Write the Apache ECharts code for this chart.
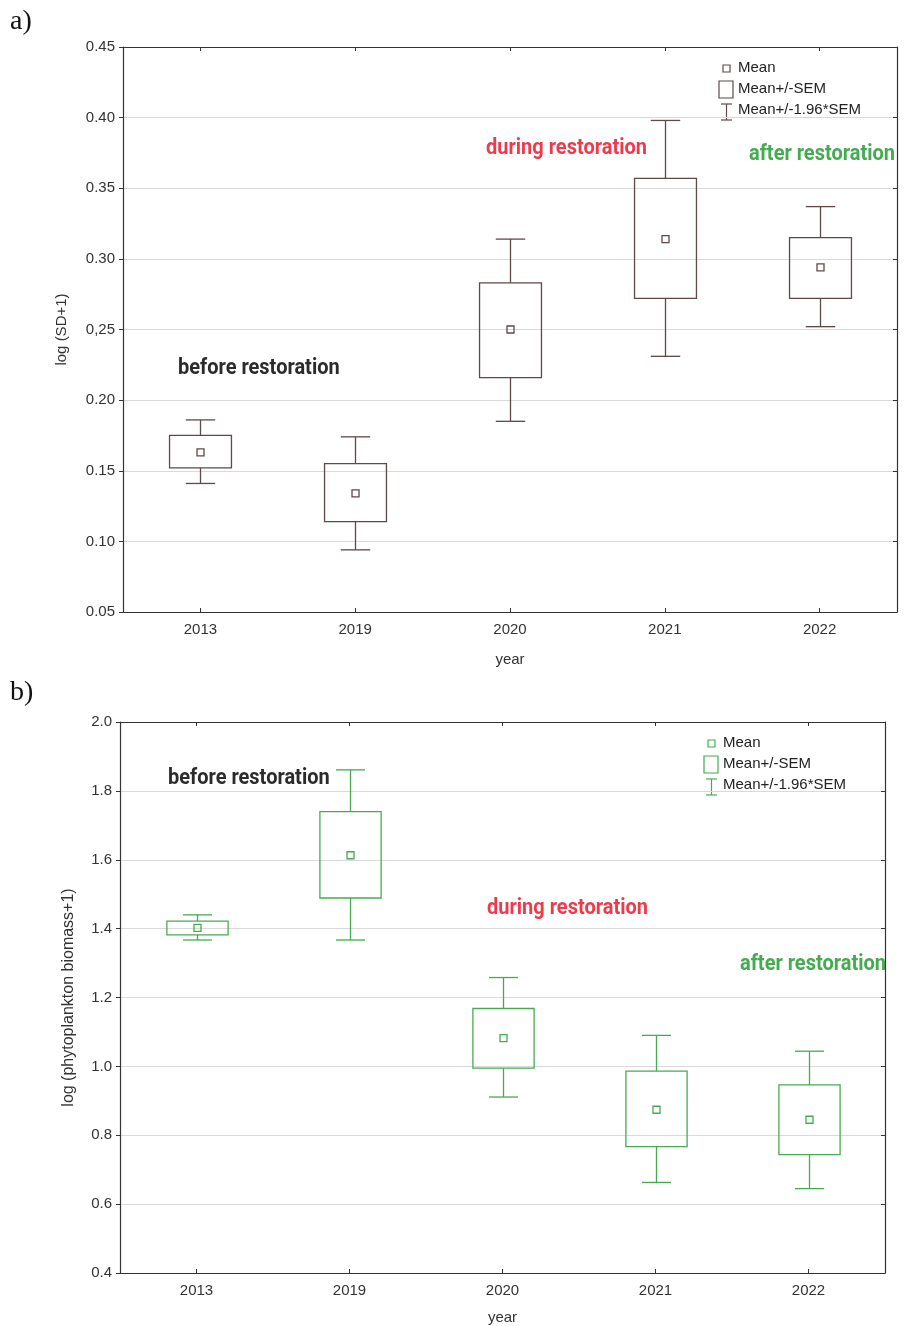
<!DOCTYPE html>
<html>
<head>
<meta charset="utf-8">
<title>Secchi depth and phytoplankton biomass by year</title>
<script src="https://cdn.jsdelivr.net/npm/echarts@6/dist/echarts.min.js"></script>
<style>
  html, body { margin: 0; padding: 0; background: #fff; }
  #chart { width: 909px; height: 1326px; }
</style>
</head>
<body>
<div id="chart"></div>
<script>
// Sampling years
const years = ['2013', '2019', '2020', '2021', '2022'];

// Panel a) log(SD+1): mean, mean ± SEM, mean ± 1.96·SEM
const sdMean     = [0.163, 0.134, 0.250, 0.314, 0.294];
const sdSemLow   = [0.152, 0.114, 0.216, 0.272, 0.272];
const sdSemHigh  = [0.175, 0.155, 0.283, 0.357, 0.315];
const sdCiLow    = [0.141, 0.094, 0.185, 0.231, 0.252];
const sdCiHigh   = [0.186, 0.174, 0.314, 0.398, 0.337];
const sdTicks    = ['0.05', '0.10', '0.15', '0.20', '0,25', '0.30', '0.35', '0.40', '0.45'];

// Panel b) log(phytoplankton biomass+1)
const bioMean    = [1.402, 1.613, 1.082, 0.874, 0.845];
const bioSemLow  = [1.382, 1.489, 0.995, 0.767, 0.744];
const bioSemHigh = [1.422, 1.740, 1.168, 0.986, 0.946];
const bioCiLow   = [1.367, 1.367, 0.911, 0.663, 0.645];
const bioCiHigh  = [1.440, 1.861, 1.258, 1.090, 1.044];
const bioTicks   = ['0.4', '0.6', '0.8', '1.0', '1.2', '1.4', '1.6', '1.8', '2.0'];

const BROWN = '#5e4848';
const GREEN = '#45ab50';
const RED = '#ee3b4c';
const AXIS = '#333';
const GRIDLINE = '#d9d9d9';
const SANS = '"Liberation Sans", Arial, sans-serif';

function rows(lo, sLo, m, sHi, hi) {
  return years.map((y, i) => [i, lo[i], sLo[i], m[i], sHi[i], hi[i]]);
}

// Box (±SEM), whiskers with caps (±1.96·SEM) and a small square for the mean
function boxRenderer(color) {
  return function (params, api) {
    const i = api.value(0);
    const lo = api.coord([i, api.value(1)]);
    const bl = api.coord([i, api.value(2)]);
    const m = api.coord([i, api.value(3)]);
    const bh = api.coord([i, api.value(4)]);
    const hi = api.coord([i, api.value(5)]);
    const band = api.size([1, 0])[0];
    const bw = band * 0.4;
    const cw = band * 0.19;
    const ms = 7;
    const x = Math.round(m[0]) + 0.5;
    const st = { stroke: color, lineWidth: 1.3, fill: null };
    return {
      type: 'group',
      children: [
        { type: 'line', shape: { x1: x, y1: hi[1], x2: x, y2: bh[1] }, style: st },
        { type: 'line', shape: { x1: x, y1: bl[1], x2: x, y2: lo[1] }, style: st },
        { type: 'line', shape: { x1: x - cw / 2, y1: hi[1], x2: x + cw / 2, y2: hi[1] }, style: st },
        { type: 'line', shape: { x1: x - cw / 2, y1: lo[1], x2: x + cw / 2, y2: lo[1] }, style: st },
        { type: 'rect', shape: { x: x - bw / 2, y: bh[1], width: bw, height: bl[1] - bh[1] }, style: st },
        { type: 'rect', shape: { x: x - ms / 2, y: m[1] - ms / 2, width: ms, height: ms }, style: st }
      ]
    };
  };
}

function catAxis(gridIndex, position, showLabels, name) {
  return {
    type: 'category', gridIndex, position, data: years,
    boundaryGap: true,
    name: name || '', nameLocation: 'middle',
    nameGap: 40,
    nameTextStyle: { fontFamily: SANS, fontSize: 15, color: '#333' },
    axisLine: { show: true, lineStyle: { color: AXIS, width: 1.2 } },
    axisTick: { show: true, inside: true, length: 4, alignWithLabel: true, lineStyle: { color: AXIS } },
    axisLabel: { show: showLabels, margin: 10, fontFamily: SANS, fontSize: 15, color: '#333' },
    splitLine: { show: false }
  };
}

function valAxis(gridIndex, position, min, max, interval, ticks, name, nameGap, nameSize) {
  return {
    type: 'value', gridIndex, position, min, max, interval,
    name: name || '', nameLocation: 'middle', nameGap: nameGap || 40,
    nameTextStyle: { fontFamily: SANS, fontSize: nameSize || 15, color: '#333' },
    axisLine: { show: true, lineStyle: { color: AXIS, width: 1.2 } },
    axisTick: { show: true, inside: position === 'right', length: 4, lineStyle: { color: AXIS } },
    axisLabel: {
      show: position === 'left', margin: 8, fontFamily: SANS, fontSize: 15, color: '#333',
      formatter: v => ticks[Math.round((v - min) / interval)]
    },
    splitLine: { show: position === 'left', lineStyle: { color: GRIDLINE, width: 1 } }
  };
}

const chart = echarts.init(document.getElementById('chart'), null, { renderer: 'canvas' });

function legendGroup(x, y, color) {
  const st = { stroke: color, lineWidth: 1.2, fill: null };
  const tx = { fontFamily: SANS, fontSize: 15, fill: '#222', textVerticalAlign: 'middle' };
  return {
    type: 'group', x, y, silent: true,
    children: [
      { type: 'rect', shape: { x: 4, y: -3, width: 7, height: 7 }, style: st },
      { type: 'text', x: 19, y: 0, style: Object.assign({ text: 'Mean' }, tx) },
      { type: 'rect', shape: { x: 0, y: 13, width: 14, height: 17 }, style: st },
      { type: 'text', x: 19, y: 21, style: Object.assign({ text: 'Mean+/-SEM' }, tx) },
      { type: 'line', shape: { x1: 2, y1: 36, x2: 13, y2: 36 }, style: st },
      { type: 'line', shape: { x1: 7.5, y1: 36, x2: 7.5, y2: 52 }, style: st },
      { type: 'line', shape: { x1: 2, y1: 52, x2: 13, y2: 52 }, style: st },
      { type: 'text', x: 19, y: 42, style: Object.assign({ text: 'Mean+/-1.96*SEM' }, tx) }
    ]
  };
}

// Period annotation; slightly stretched vertically about its own anchor
function note(text, x, y, color) {
  return {
    type: 'text', x, y, silent: true, scaleY: 1.1,
    style: {
      text, fill: color, fontFamily: 'Roboto, "Liberation Sans", sans-serif',
      fontWeight: 'bold', fontSize: 20, textVerticalAlign: 'middle'
    }
  };
}

function panelLabel(text, x, y) {
  return {
    type: 'text', x, y, silent: true,
    style: { text, fill: '#111', fontFamily: '"Liberation Serif", "Times New Roman", serif', fontSize: 28, textVerticalAlign: 'middle' }
  };
}

const option = {
  animation: false,
  backgroundColor: '#fff',
  grid: [
    { left: 123, top: 47, width: 774, height: 565 },
    { left: 120, top: 722, width: 765, height: 554 }
  ],
  xAxis: [
    Object.assign(catAxis(0, 'bottom', true, 'year'), { nameGap: 40 }),
    catAxis(0, 'top', false),
    Object.assign(catAxis(1, 'bottom', true, 'year'), { nameGap: 37 }),
    catAxis(1, 'top', false)
  ],
  yAxis: [
    valAxis(0, 'left', 0.05, 0.45, 0.05, sdTicks, 'log (SD+1)', 54, 15),
    valAxis(0, 'right', 0.05, 0.45, 0.05, sdTicks),
    valAxis(1, 'left', 0.4, 2.0, 0.2, bioTicks, 'log (phytoplankton biomass+1)', 43, 16),
    valAxis(1, 'right', 0.4, 2.0, 0.2, bioTicks)
  ],
  series: [
    {
      type: 'custom', name: 'log (SD+1)', xAxisIndex: 0, yAxisIndex: 0,
      renderItem: boxRenderer(BROWN),
      encode: { x: 0, y: [1, 2, 3, 4, 5] },
      data: rows(sdCiLow, sdSemLow, sdMean, sdSemHigh, sdCiHigh),
      z: 5
    },
    {
      type: 'custom', name: 'log (phytoplankton biomass+1)', xAxisIndex: 2, yAxisIndex: 2,
      renderItem: boxRenderer(GREEN),
      encode: { x: 0, y: [1, 2, 3, 4, 5] },
      data: rows(bioCiLow, bioSemLow, bioMean, bioSemHigh, bioCiHigh),
      z: 5
    }
  ],
  graphic: [
    panelLabel('a)', 10, 22),
    panelLabel('b)', 10, 693),
    legendGroup(719, 68, BROWN),
    legendGroup(704, 743, GREEN),
    note('before restoration', 178, 368, '#2b2b2b'),
    note('during restoration', 486, 148, RED),
    note('after restoration', 749, 154, GREEN),
    note('before restoration', 168, 778, '#2b2b2b'),
    note('during restoration', 487, 908, RED),
    note('after restoration', 740, 964, GREEN)
  ]
};

chart.setOption(option);
</script>
</body>
</html>
